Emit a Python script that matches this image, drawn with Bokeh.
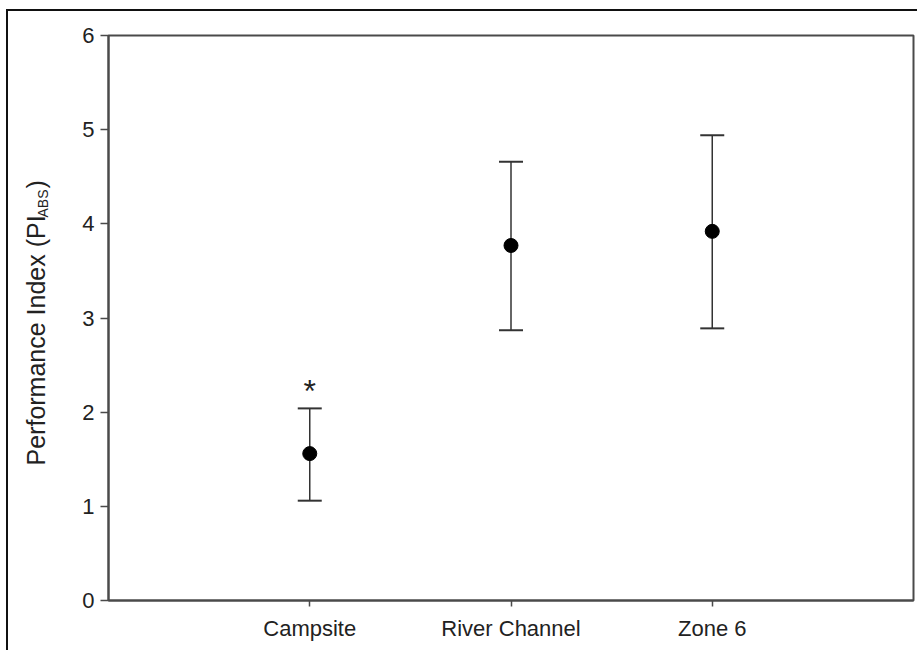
import math
from bokeh.plotting import figure
from bokeh.layouts import row
from bokeh.models import Range1d, FixedTicker, Whisker, TeeHead, ColumnDataSource
from bokeh.core.properties import value
from bokeh.embed import file_html
from bokeh.resources import INLINE

# ---- data ----
categories = ["Campsite", "River Channel", "Zone 6"]
positions = [1, 2, 3]
means = [1.56, 3.77, 3.92]
upper = [2.04, 4.66, 4.94]
lower = [1.06, 2.87, 2.89]
sig_marker = ["*", "", ""]
sig_y = [2.23, None, None]
y_ticks = [0, 1, 2, 3, 4, 5, 6]
y_label_parts = ["Performance Index (PI", "ABS", ")"]

FONT = "Liberation Sans"
AX = "#4a4a4a"
TXT = "#222222"
H = 639
TOP, BOTTOM = 24, 50
LW = 52

yr = Range1d(0, 6)

# ---- main plot ----
p = figure(width=909 - LW, height=H, output_backend="svg", toolbar_location=None,
           x_range=Range1d(0, 4), y_range=yr,
           min_border_left=48, min_border_right=4, min_border_top=TOP, min_border_bottom=BOTTOM)
p.background_fill_color = "white"
p.border_fill_color = "white"
p.outline_line_color = AX
p.outline_line_width = 2
p.xgrid.visible = False
p.ygrid.visible = False

p.xaxis.ticker = FixedTicker(ticks=positions)
p.xaxis.major_label_overrides = {pos: c for pos, c in zip(positions, categories)}
p.yaxis.ticker = FixedTicker(ticks=y_ticks)
for ax in (p.xaxis[0], p.yaxis[0]):
    ax.axis_line_color = AX
    ax.axis_line_width = 2
    ax.major_tick_line_color = AX
    ax.major_tick_line_width = 1.5
    ax.major_tick_in = 0
    ax.minor_tick_line_color = None
    ax.major_label_text_font = FONT
    ax.major_label_text_font_size = "22px"
    ax.major_label_text_color = TXT
p.xaxis.major_tick_out = 6
p.xaxis.major_label_standoff = 9
p.yaxis.major_tick_out = 8
p.yaxis.major_label_standoff = 6

src = ColumnDataSource(dict(x=positions, m=means, up=upper, lo=lower, cat=categories))
w = Whisker(source=src, base="x", upper="up", lower="lo", dimension="height",
            line_color="#333333", line_width=1.5,
            upper_head=TeeHead(size=24, line_color="#333333", line_width=2),
            lower_head=TeeHead(size=24, line_color="#333333", line_width=2))
p.add_layout(w)
p.scatter("x", "m", source=src, size=14, color="black")

sx = [positions[i] for i, s in enumerate(sig_marker) if s]
sy = [sig_y[i] for i, s in enumerate(sig_marker) if s]
st = [s for s in sig_marker if s]
p.text(x=sx, y=sy, text=st, text_align="center", text_baseline="alphabetic",
       text_font=value(FONT), text_font_size="32px", text_color=TXT)

# ---- y-axis title panel (with subscript) ----
lab = figure(width=LW, height=H, output_backend="svg", toolbar_location=None,
             x_range=Range1d(0, LW), y_range=yr, x_axis_type=None, y_axis_type=None,
             min_border_left=0, min_border_right=0, min_border_top=TOP, min_border_bottom=BOTTOM)
lab.outline_line_color = None
lab.xgrid.visible = False
lab.ygrid.visible = False
lab.background_fill_color = "white"
lab.border_fill_color = "white"
lab.text(x=[27, 34, 27], y=[1.434, 4.067, 4.375], text=y_label_parts,
         angle=math.pi / 2, text_align="left", text_baseline="alphabetic",
         text_font=value(FONT), text_font_size=["25px", "14px", "25px"], text_color=TXT)

layout = row(lab, p, styles={"margin-top": "9px", "margin-left": "6px",
                             "border-top": "2px solid #111", "border-left": "2px solid #111"})
open("out.html", "w").write(file_html(layout, INLINE))
